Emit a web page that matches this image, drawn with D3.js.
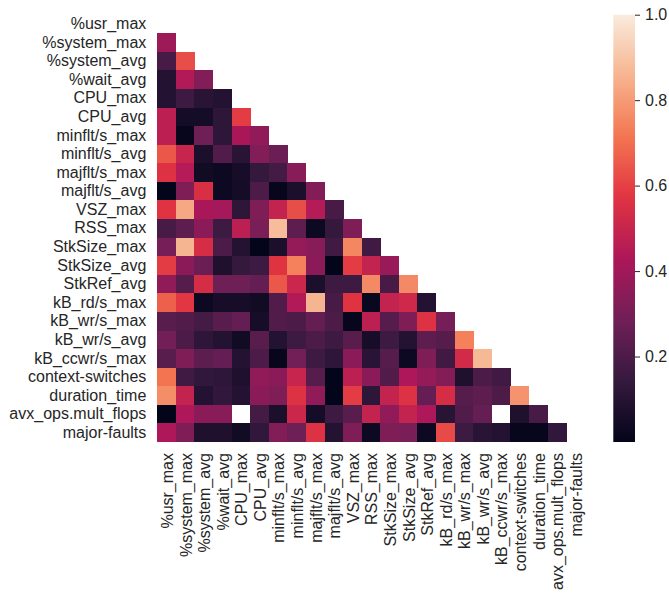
<!DOCTYPE html>
<html>
<head>
<meta charset="utf-8">
<script src="https://cdn.jsdelivr.net/npm/d3@7"></script>
<style>
  html, body { margin: 0; padding: 0; background: #ffffff; }
  svg { display: block; }
  text { font-family: "Liberation Sans", Arial, sans-serif; fill: #262626; }
</style>
</head>
<body>
<svg id="chart" width="669" height="593"></svg>
<script>
// Variable names (rows and columns)
const variables = ["%usr_max", "%system_max", "%system_avg", "%wait_avg", "CPU_max", "CPU_avg",
  "minflt/s_max", "minflt/s_avg", "majflt/s_max", "majflt/s_avg", "VSZ_max", "RSS_max",
  "StkSize_max", "StkSize_avg", "StkRef_avg", "kB_rd/s_max", "kB_wr/s_max", "kB_wr/s_avg",
  "kB_ccwr/s_max", "context-switches", "duration_time", "avx_ops.mult_flops", "major-faults"];

// Lower-triangle values: row i holds columns 0..i-1 (null = missing)
const lowerTriangle = [
  [],
  [0.39],
  [0.19, 0.63],
  [0.09, 0.44, 0.33],
  [0.09, 0.16, 0.11, 0.09],
  [0.47, 0.05, 0.05, 0.12, 0.59],
  [0.47, 0.01, 0.28, 0.12, 0.42, 0.36],
  [0.65, 0.50, 0.07, 0.21, 0.11, 0.33, 0.27],
  [0.56, 0.45, 0.04, 0.03, 0.06, 0.14, 0.18, 0.34],
  [0.00, 0.32, 0.55, 0.03, 0.05, 0.20, 0.01, 0.07, 0.33],
  [0.57, 0.83, 0.42, 0.41, 0.12, 0.32, 0.49, 0.63, 0.45, 0.19],
  [0.19, 0.24, 0.35, 0.16, 0.47, 0.31, 0.88, 0.24, 0.03, 0.14, 0.32],
  [0.30, 0.86, 0.54, 0.20, 0.09, 0.00, 0.07, 0.37, 0.34, 0.17, 0.75, 0.17],
  [0.59, 0.35, 0.27, 0.08, 0.14, 0.16, 0.57, 0.74, 0.35, 0.00, 0.59, 0.49, 0.38],
  [0.36, 0.22, 0.54, 0.28, 0.28, 0.26, 0.65, 0.51, 0.07, 0.16, 0.16, 0.76, 0.19, 0.76],
  [0.67, 0.58, 0.03, 0.06, 0.06, 0.04, 0.21, 0.44, 0.86, 0.19, 0.57, 0.02, 0.49, 0.52, 0.09],
  [0.23, 0.21, 0.18, 0.23, 0.26, 0.06, 0.21, 0.20, 0.26, 0.20, 0.01, 0.47, 0.22, 0.32, 0.56, 0.30],
  [0.29, 0.20, 0.12, 0.09, 0.04, 0.23, 0.09, 0.16, 0.20, 0.16, 0.23, 0.06, 0.16, 0.09, 0.24, 0.22, 0.74],
  [0.23, 0.32, 0.24, 0.26, 0.09, 0.20, 0.01, 0.29, 0.16, 0.12, 0.35, 0.11, 0.22, 0.03, 0.32, 0.17, 0.53, 0.87],
  [0.71, 0.17, 0.13, 0.12, 0.08, 0.36, 0.35, 0.50, 0.22, 0.00, 0.47, 0.35, 0.21, 0.43, 0.37, 0.33, 0.08, 0.20, 0.17],
  [0.77, 0.49, 0.09, 0.13, 0.09, 0.35, 0.32, 0.56, 0.36, 0.00, 0.59, 0.12, 0.49, 0.56, 0.26, 0.54, 0.22, 0.24, 0.20, 0.78],
  [0.00, 0.43, 0.35, 0.34, null, 0.18, 0.07, 0.51, 0.05, 0.16, 0.23, 0.49, 0.36, 0.49, 0.43, 0.11, 0.21, 0.26, null, 0.08, 0.19],
  [0.43, 0.32, 0.08, 0.08, 0.04, 0.13, 0.33, 0.28, 0.56, 0.09, 0.32, 0.03, 0.32, 0.31, 0.03, 0.62, 0.16, 0.11, 0.09, 0.01, 0.01, 0.13]
];

// Colorbar ticks
const colorbarTicks = [0.2, 0.4, 0.6, 0.8, 1.0];
const colorDomain = [0, 1];

// "rocket" colormap anchor colours
const rocketStops = ["#03051a", "#35193e", "#701f57", "#ad1759", "#e13342", "#f37651", "#f6b48f", "#faebdd"];
const rocket = d3.piecewise(d3.interpolateRgb, rocketStops);

const svg = d3.select("#chart");
const gridLeft = 157.3, gridRight = 584.7, gridTop = 14.7, gridBottom = 442;
const fontFamily = '"Liberation Sans", Arial, sans-serif';

const x = d3.scaleBand().domain(variables).range([gridLeft, gridRight]).padding(0);
const y = d3.scaleBand().domain(variables).range([gridTop, gridBottom]).padding(0);
const color = d3.scaleSequential(rocket).domain(colorDomain);

const cells = [];
lowerTriangle.forEach((row, i) => {
  row.forEach((v, j) => {
    if (v !== null) cells.push({ r: variables[i], c: variables[j], v });
  });
});

svg.append("g").selectAll("rect").data(cells).join("rect")
  .attr("x", d => x(d.c))
  .attr("y", d => y(d.r))
  .attr("width", x.bandwidth() + 0.4)
  .attr("height", y.bandwidth() + 0.4)
  .attr("fill", d => color(d.v))
  .attr("shape-rendering", "crispEdges");

// Y axis labels
const yAxis = d3.axisLeft(y).tickSize(0).tickPadding(11);
const gy = svg.append("g").attr("transform", `translate(${gridLeft},0)`).call(yAxis);
gy.select(".domain").remove();
gy.selectAll("text").style("font-size", "16px").attr("fill", "#262626")
  .style("font-family", fontFamily);

// X axis labels (rotated)
const xAxis = d3.axisBottom(x).tickSize(0).tickPadding(0);
const gx = svg.append("g").attr("transform", `translate(0,${gridBottom})`).call(xAxis);
gx.select(".domain").remove();
gx.selectAll("text")
  .style("font-size", "16px").attr("fill", "#262626")
  .style("font-family", fontFamily)
  .attr("transform", "rotate(-90)")
  .attr("x", -11)
  .attr("y", 0)
  .attr("dy", "0.4em")
  .attr("text-anchor", "end");

// Colorbar
const cbLeft = 613.3, cbWidth = 21.7;
const cbScale = d3.scaleLinear().domain(colorDomain).range([gridBottom, gridTop]);
const defs = svg.append("defs");
const grad = defs.append("linearGradient").attr("id", "cbgrad")
  .attr("x1", 0).attr("y1", 1).attr("x2", 0).attr("y2", 0);
d3.range(0, 1.0001, 0.02).forEach(t => {
  grad.append("stop").attr("offset", t).attr("stop-color", color(colorDomain[0] + t * (colorDomain[1] - colorDomain[0])));
});
svg.append("rect")
  .attr("x", cbLeft).attr("y", gridTop)
  .attr("width", cbWidth).attr("height", gridBottom - gridTop)
  .attr("fill", "url(#cbgrad)");

const cbAxis = d3.axisRight(cbScale).tickValues(colorbarTicks).tickFormat(d3.format(".1f"))
  .tickSize(5).tickPadding(5);
const gcb = svg.append("g").attr("transform", `translate(${cbLeft + cbWidth},0)`).call(cbAxis);
gcb.select(".domain").remove();
gcb.selectAll("line").attr("stroke", "#262626").attr("stroke-width", 1);
gcb.selectAll("text").style("font-size", "16px").attr("fill", "#262626")
  .style("font-family", fontFamily);
</script>
</body>
</html>
